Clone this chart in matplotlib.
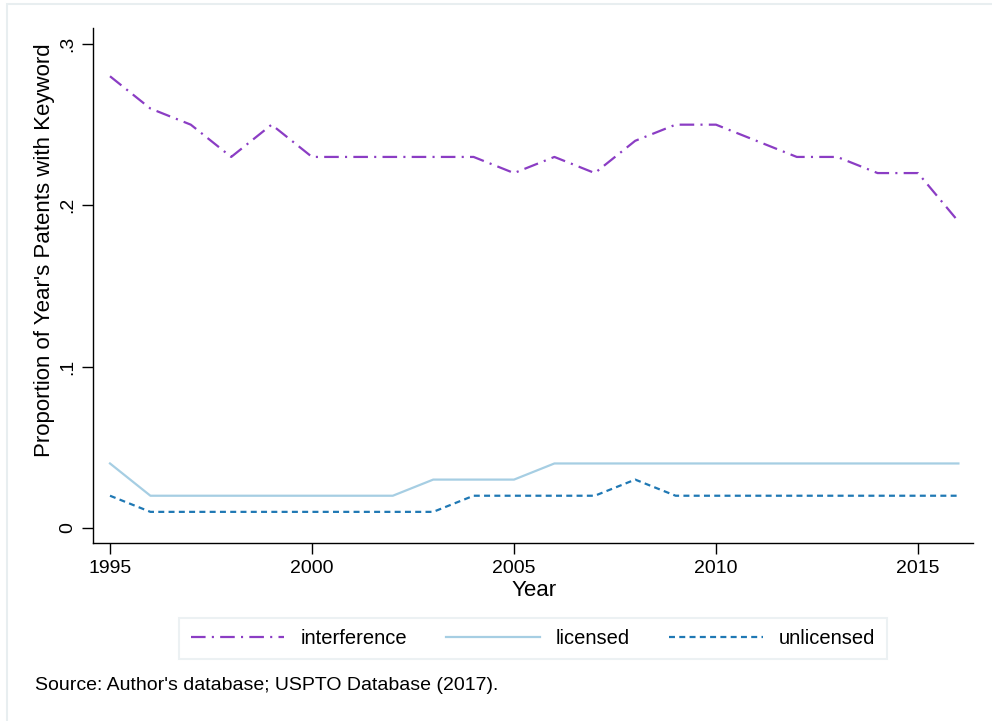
import matplotlib
matplotlib.use("Agg")
import matplotlib.pyplot as plt
from matplotlib.lines import Line2D
from matplotlib.patches import Rectangle

plt.rcParams['font.family'] = ['Liberation Sans', 'DejaVu Sans']
plt.rcParams['lines.scale_dashes'] = False

years = list(range(1995, 2017))
interference = [0.28, 0.26, 0.25, 0.23, 0.25, 0.23, 0.23, 0.23, 0.23, 0.23, 0.22,
                0.23, 0.22, 0.24, 0.25, 0.25, 0.24, 0.23, 0.23, 0.22, 0.22, 0.19]
licensed = [0.04, 0.02, 0.02, 0.02, 0.02, 0.02, 0.02, 0.02, 0.03, 0.03, 0.03,
            0.04, 0.04, 0.04, 0.04, 0.04, 0.04, 0.04, 0.04, 0.04, 0.04, 0.04]
unlicensed = [0.02, 0.01, 0.01, 0.01, 0.01, 0.01, 0.01, 0.01, 0.01, 0.02, 0.02,
              0.02, 0.02, 0.03, 0.02, 0.02, 0.02, 0.02, 0.02, 0.02, 0.02, 0.02]
series_names = ["interference", "licensed", "unlicensed"]
xticks = [1995, 2000, 2005, 2010, 2015]
yticks = [0, 0.1, 0.2, 0.3]
ytick_labels = ["0", ".1", ".2", ".3"]

c_int = "#8B3DC4"
c_lic = "#A6CEE3"
c_unl = "#1F78B4"
ls_int = (0, (10.5, 4.5, 1.5, 4.5))
ls_unl = (0, (4.3, 3.1))
LW = 1.6

W, H = 992, 721
fig = plt.figure(figsize=(W / 100, H / 100), dpi=100)
fig.patch.set_facecolor("white")
# outer frame
fig.patches.append(Rectangle((7 / W, -0.1), 1.2, 1 - 4 / H + 0.1, transform=fig.transFigure,
                             fill=False, edgecolor="#E8EEF0", lw=1.5))

ax = fig.add_axes([93 / W, 1 - 543 / H, (973 - 93) / W, (543 - 28) / H])
ax.plot(years, interference, color=c_int, lw=LW, linestyle=ls_int)
ax.plot(years, licensed, color=c_lic, lw=LW, linestyle='-')
ax.plot(years, unlicensed, color=c_unl, lw=LW, linestyle=ls_unl)

ax.set_xlim(1995 - 17 / 40.4, 2015 + 55 / 40.4)
ax.set_ylim(-15 / 1613, 0.3 + 16 / 1613)
ax.spines['top'].set_visible(False)
ax.spines['right'].set_visible(False)
for s in ('left', 'bottom'):
    ax.spines[s].set_linewidth(1.0)
    ax.spines[s].set_color("black")
ax.set_xticks(xticks)
ax.set_xticklabels([str(x) for x in xticks], fontsize=14)
ax.set_yticks(yticks)
ax.set_yticklabels(ytick_labels, fontsize=14, rotation=90, va='center')
ax.tick_params(axis='both', length=8, width=1.0, pad=4)
fig.text(534 / W, 1 - 591 / H, "Year", ha='center', va='center', fontsize=16)
fig.text(45 / W, 1 - 250 / H, "Proportion of Year's Patents with Keyword", rotation=90,
         ha='center', va='center', fontsize=16)

handles = [Line2D([], [], color=c_int, lw=LW, linestyle=ls_int),
           Line2D([], [], color=c_lic, lw=LW, linestyle='-'),
           Line2D([], [], color=c_unl, lw=LW, linestyle=ls_unl)]
leg = fig.legend(handles, series_names, loc='center', bbox_to_anchor=((183 + 883) / 2 / W, 1 - 638.5 / H),
                 ncol=3, fontsize=14.5, frameon=True, fancybox=False, handlelength=4.65,
                 columnspacing=1.95, handletextpad=0.8, borderpad=0.55)
leg.get_frame().set_edgecolor("#E8EEF0")
leg.get_frame().set_linewidth(1.5)

fig.text(35 / W, 1 - 686 / H, "Source: Author's database; USPTO Database (2017).",
         ha='left', va='center', fontsize=14)

fig.savefig("out.png", dpi=100)
